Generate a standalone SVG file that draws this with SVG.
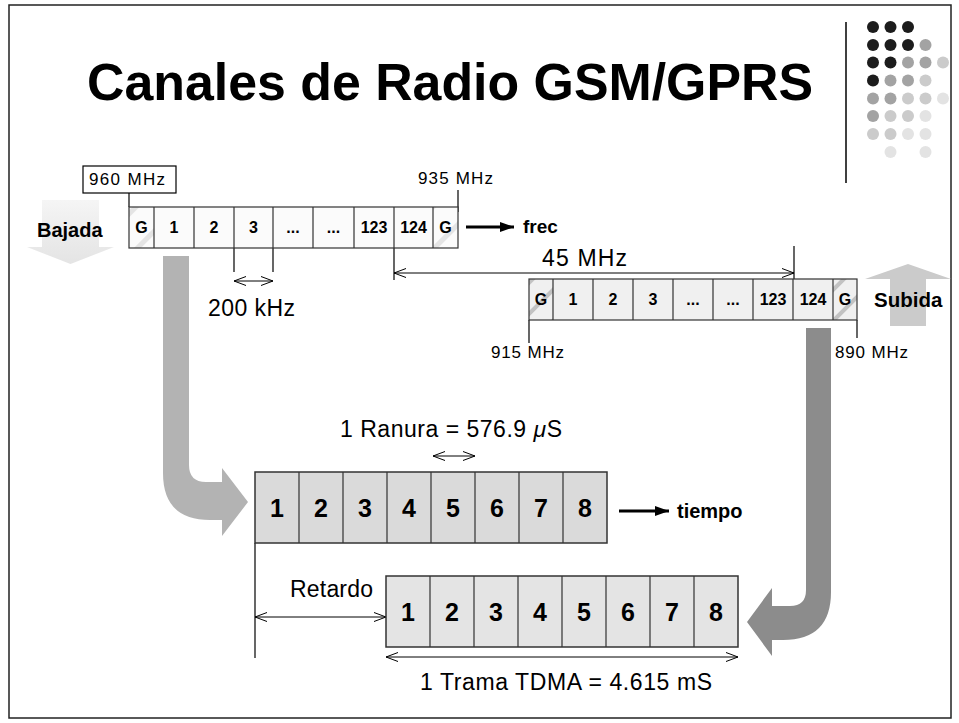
<svg xmlns="http://www.w3.org/2000/svg" width="959" height="723" viewBox="0 0 959 723">
<defs>
<style>
.reg{font-family:"Liberation Sans",Arial,sans-serif;font-weight:normal;fill:#000}
.bld{font-family:"Liberation Sans",Arial,sans-serif;font-weight:bold;fill:#000}
.cell{font-family:"Liberation Sans",Arial,sans-serif;font-weight:bold;font-size:16px;text-anchor:middle;fill:#000}
.slot{font-family:"Liberation Sans",Arial,sans-serif;font-weight:bold;font-size:25px;text-anchor:middle;fill:#000}
.ln{stroke:#000;stroke-width:1.2;fill:none}
.dim{stroke:#000;stroke-width:1;fill:none}
.cellline{stroke:#333;stroke-width:1.2;fill:none}
</style>
<pattern id="hatchTop" patternUnits="userSpaceOnUse" width="30" height="30" patternTransform="rotate(45)">
<rect width="30" height="30" fill="#fbfbfb"/><rect x="0" y="0" width="5" height="30" fill="#e4e4e4"/>
</pattern>
<pattern id="hatchBot" patternUnits="userSpaceOnUse" width="22" height="22" patternTransform="rotate(45)">
<rect width="22" height="22" fill="#f0f0f0"/><rect x="0" y="0" width="4" height="22" fill="#c2c2c2"/>
</pattern>
<linearGradient id="bajadaGrad" x1="0" y1="0" x2="0" y2="1">
<stop offset="0" stop-color="#f5f5f5"/><stop offset="1" stop-color="#e4e4e4"/>
</linearGradient>
<marker id="open" viewBox="0 0 12 10" refX="12" refY="5" markerWidth="12" markerHeight="10" markerUnits="userSpaceOnUse" orient="auto-start-reverse">
<path d="M0,0.5 L12,5 L0,9.5" fill="none" stroke="#000" stroke-width="1"/>
</marker>
<marker id="solid" viewBox="0 0 14 10" refX="14" refY="5" markerWidth="14" markerHeight="10" markerUnits="userSpaceOnUse" orient="auto">
<path d="M0,0 L14,5 L0,10 Z" fill="#000"/>
</marker>
</defs>

<rect x="9" y="5" width="942" height="713" fill="#fff" stroke="#222" stroke-width="1.5"/>

<g id="title">
<text class="bld" x="87" y="100" font-size="52" textLength="726" lengthAdjust="spacingAndGlyphs">Canales de Radio GSM/GPRS</text>
</g>

<g id="decoration">
<line x1="846" y1="22" x2="846" y2="183" stroke="#000" stroke-width="1.5"/>
<g fill="#1c1c1c">
<circle cx="873" cy="27" r="6"/><circle cx="890.5" cy="27" r="6"/><circle cx="908" cy="27" r="6"/>
<circle cx="873" cy="45" r="6"/><circle cx="890.5" cy="45" r="6"/><circle cx="908" cy="45" r="6"/>
<circle cx="873" cy="62.5" r="6"/><circle cx="890.5" cy="62.5" r="6"/>
<circle cx="873" cy="80.5" r="6"/>
</g>
<g fill="#a3a3a3">
<circle cx="925.5" cy="45" r="6"/>
<circle cx="908" cy="62.5" r="6"/><circle cx="925.5" cy="62.5" r="6"/>
<circle cx="890.5" cy="80.5" r="6"/><circle cx="908" cy="80.5" r="6"/>
<circle cx="873" cy="98.5" r="6"/><circle cx="890.5" cy="98.5" r="6"/>
<circle cx="873" cy="116" r="6"/>
</g>
<g fill="#cbcbcb">
<circle cx="943" cy="62.5" r="6"/>
<circle cx="925.5" cy="80.5" r="6"/>
<circle cx="908" cy="98.5" r="6"/><circle cx="925.5" cy="98.5" r="6"/>
<circle cx="890.5" cy="116" r="6"/><circle cx="908" cy="116" r="6"/>
<circle cx="873" cy="134" r="6"/><circle cx="890.5" cy="134" r="6"/>
</g>
<g fill="#e3e3e3">
<circle cx="943" cy="98.5" r="6"/>
<circle cx="925.5" cy="116" r="6"/>
<circle cx="908" cy="134" r="6"/><circle cx="925.5" cy="134" r="6"/>
<circle cx="890.5" cy="152" r="6"/><circle cx="925.5" cy="152" r="6"/>
</g>
</g>

<g id="bajada">
<path d="M42,200 L99,200 L99,247 L114,247 L70.5,264 L27,247 L42,247 Z" fill="url(#bajadaGrad)"/>
<text class="bld" x="37" y="237" font-size="20">Bajada</text>
</g>

<g id="subida">
<path d="M890,326 L926,326 L926,279 L951,279 L908,264 L865,279 L890,279 Z" fill="#cbcbcb"/>
<text class="bld" x="874" y="307" font-size="20.5">Subida</text>
</g>

<g id="connectors">
<path d="M163,256 L189,256 L189,465 Q189,482 206,482 L222,482 L222,468 L248,502 L222,536 L222,520 L210,520 Q163,520 163,473 Z" fill="#b3b3b3"/>
<path d="M806,328 L831,328 L831,592 Q831,640 783,640 L772,640 L772,656 L747,622 L772,588 L772,606 L790,606 Q806,606 806,590 Z" fill="#8c8c8c"/>
<line x1="466" y1="227" x2="514" y2="227" stroke="#000" stroke-width="2.8" marker-end="url(#solid)"/>
<line x1="619" y1="511" x2="669" y2="511" stroke="#000" stroke-width="2.8" marker-end="url(#solid)"/>
<line class="ln" x1="129" y1="193" x2="129" y2="207"/>
<line class="ln" x1="458" y1="190" x2="458" y2="212"/>
<line class="ln" x1="234" y1="248" x2="234" y2="272"/>
<line class="ln" x1="273" y1="248" x2="273" y2="272"/>
<line class="dim" x1="234" y1="281" x2="273" y2="281" marker-start="url(#open)" marker-end="url(#open)"/>
<line class="ln" x1="394" y1="248" x2="394" y2="280"/>
<line class="ln" x1="794" y1="246" x2="794" y2="279"/>
<line class="dim" x1="394" y1="273" x2="794" y2="273" marker-start="url(#open)" marker-end="url(#open)"/>
<line class="ln" x1="529" y1="320" x2="529" y2="343"/>
<line class="ln" x1="857" y1="320" x2="857" y2="338"/>
<line class="dim" x1="433" y1="456" x2="475" y2="456" marker-start="url(#open)" marker-end="url(#open)"/>
<line class="ln" x1="255" y1="543" x2="255" y2="658"/>
<line class="dim" x1="255" y1="617" x2="386" y2="617" marker-start="url(#open)" marker-end="url(#open)"/>
<line class="dim" x1="386" y1="657" x2="738" y2="657" marker-start="url(#open)" marker-end="url(#open)"/>
</g>

<g id="downlink-strip">
<rect x="83" y="166" width="93" height="27" fill="#fff" stroke="#000" stroke-width="1.2"/>
<text class="reg" x="89" y="185" font-size="17" textLength="76" lengthAdjust="spacing">960 MHz</text>
<text class="reg" x="418" y="184" font-size="17" textLength="75" lengthAdjust="spacing">935 MHz</text>
<rect x="129" y="207" width="329" height="41" fill="#fbfbfb"/>
<rect x="129" y="207" width="25" height="41" fill="url(#hatchTop)"/>
<rect x="433" y="207" width="25" height="41" fill="url(#hatchTop)"/>
<rect x="129" y="207" width="329" height="41" class="cellline"/>
<path class="cellline" d="M154,207V248M194,207V248M234,207V248M273,207V248M313,207V248M354,207V248M394,207V248M433,207V248"/>
<text class="cell" x="141.5" y="233">G</text>
<text class="cell" x="174" y="233">1</text>
<text class="cell" x="214" y="233">2</text>
<text class="cell" x="253.5" y="233">3</text>
<text class="cell" x="293" y="233">...</text>
<text class="cell" x="333.5" y="233">...</text>
<text class="cell" x="374" y="233">123</text>
<text class="cell" x="413.5" y="233">124</text>
<text class="cell" x="445.5" y="233">G</text>
<text class="bld" x="523" y="233" font-size="19">frec</text>
<text class="reg" x="208" y="316" font-size="23" textLength="87" lengthAdjust="spacing">200 kHz</text>
<text class="reg" x="542" y="266" font-size="23" textLength="85" lengthAdjust="spacing">45 MHz</text>
</g>

<g id="uplink-strip">
<rect x="529" y="279" width="328" height="41" fill="#f0f0f0"/>
<rect x="529" y="279" width="24" height="41" fill="url(#hatchBot)"/>
<rect x="833" y="279" width="24" height="41" fill="url(#hatchBot)"/>
<rect x="529" y="279" width="328" height="41" class="cellline"/>
<path class="cellline" d="M553,279V320M593,279V320M633,279V320M673,279V320M713,279V320M753,279V320M793,279V320M833,279V320"/>
<text class="cell" x="541" y="305">G</text>
<text class="cell" x="573" y="305">1</text>
<text class="cell" x="613" y="305">2</text>
<text class="cell" x="653" y="305">3</text>
<text class="cell" x="693" y="305">...</text>
<text class="cell" x="733" y="305">...</text>
<text class="cell" x="773" y="305">123</text>
<text class="cell" x="813" y="305">124</text>
<text class="cell" x="845" y="305">G</text>
<text class="reg" x="491" y="358" font-size="17" textLength="73" lengthAdjust="spacing">915 MHz</text>
<text class="reg" x="835" y="358" font-size="17" textLength="73" lengthAdjust="spacing">890 MHz</text>
</g>

<g id="frame-downlink">
<rect x="255" y="472" width="352" height="71" fill="#dadada" stroke="#333" stroke-width="1.5"/>
<path class="cellline" d="M299,472V543M343,472V543M387,472V543M431,472V543M475,472V543M519,472V543M563,472V543"/>
<text class="slot" x="277" y="517">1</text>
<text class="slot" x="321" y="517">2</text>
<text class="slot" x="365" y="517">3</text>
<text class="slot" x="409" y="517">4</text>
<text class="slot" x="453" y="517">5</text>
<text class="slot" x="497" y="517">6</text>
<text class="slot" x="541" y="517">7</text>
<text class="slot" x="585" y="517">8</text>
<text class="reg" x="340" y="437" font-size="23" textLength="222" lengthAdjust="spacing">1 Ranura = 576.9 <tspan font-style="italic">μ</tspan>S</text>
<text class="bld" x="677" y="518" font-size="20">tiempo</text>
</g>

<g id="frame-uplink">
<rect x="386" y="576" width="352" height="71" fill="#e4e4e4" stroke="#333" stroke-width="1.5"/>
<path class="cellline" d="M430,576V647M474,576V647M518,576V647M562,576V647M606,576V647M650,576V647M694,576V647"/>
<text class="slot" x="408" y="621">1</text>
<text class="slot" x="452" y="621">2</text>
<text class="slot" x="496" y="621">3</text>
<text class="slot" x="540" y="621">4</text>
<text class="slot" x="584" y="621">5</text>
<text class="slot" x="628" y="621">6</text>
<text class="slot" x="672" y="621">7</text>
<text class="slot" x="716" y="621">8</text>
<text class="reg" x="290" y="597" font-size="23" textLength="83" lengthAdjust="spacing">Retardo</text>
<text class="reg" x="420" y="690" font-size="23" textLength="292" lengthAdjust="spacing">1 Trama TDMA = 4.615 mS</text>
</g>
</svg>
